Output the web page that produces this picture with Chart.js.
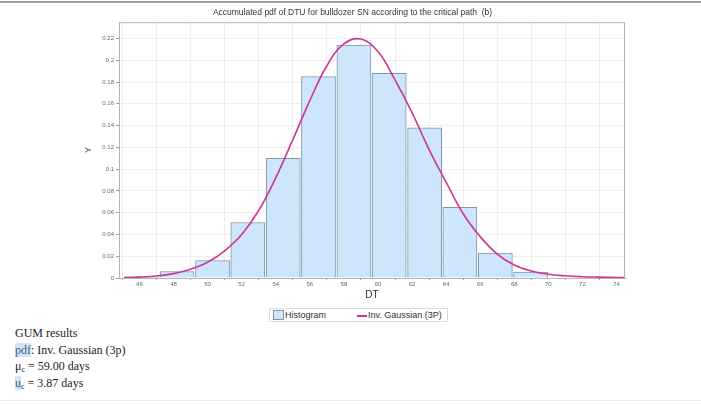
<!DOCTYPE html>
<html>
<head>
<meta charset="utf-8">
<script src="https://cdn.jsdelivr.net/npm/chart.js@4"></script>
<style>
  body { margin: 0; width: 701px; height: 404px; background: #fff; position: relative; overflow: hidden; font-family: "Liberation Sans", Arial, sans-serif; }
  .linhaTopo { position: absolute; left: 0; top: 1px; width: 701px; height: 2px; background: #a0a0a0; }
  .linhaBase { position: absolute; left: 0; top: 400px; width: 701px; height: 1px; background: #ececec; }
  #caixa { position: absolute; left: 0; top: 0; width: 701px; height: 302px; }
  .legenda { position: absolute; left: 269px; top: 308px; width: 177px; height: 12px; border: 1px solid #dcdcdc; font-size: 9px; color: #333; line-height: 12px; }
  .legenda .quad { position: absolute; left: 3px; top: 1px; width: 9px; height: 8px; background: #cde6fb; border: 1px solid #7f95a8; }
  .legenda .traco { position: absolute; left: 87px; top: 6px; width: 10px; height: 1.5px; background: #d13494; }
  .legenda .t1 { position: absolute; left: 15px; top: 0; }
  .legenda .t2 { position: absolute; left: 98px; top: 0; }
  .gum { position: absolute; left: 15px; top: 325px; font-family: "Liberation Serif", "DejaVu Serif", serif; font-size: 12px; color: #222; line-height: 16.6px; }
  .hl { background: #d5e4f3; color: #3a5f8f; }
  sub { font-size: 8px; vertical-align: -2px; line-height: 0; }
</style>
</head>
<body>
<div class="linhaTopo"></div>
<div id="caixa"><canvas id="grafico"></canvas></div>
<div class="legenda">
  <span class="quad"></span><span class="t1">Histogram</span>
  <span class="traco"></span><span class="t2">Inv. Gaussian (3P)</span>
</div>
<div class="gum">
  GUM results<br>
  <span class="hl">pdf</span>: Inv. Gaussian (3p)<br>
  μ<sub>c</sub> = 59.00 days<br>
  <span class="hl">u</span><sub>c</sub> = 3.87 days
</div>
<div class="linhaBase"></div>
<script>
  // histogram bins (centres) and heights
  const binCentros = [46.14, 48.21, 50.29, 52.36, 54.44, 56.51, 58.59, 60.66, 62.74, 64.81, 66.89, 68.96];
  const binAlturas = [0.001, 0.006, 0.016, 0.051, 0.110, 0.185, 0.214, 0.188, 0.138, 0.065, 0.023, 0.0055];

  // fitted curve
  const curvaX = [45.1, 46, 47, 48, 49, 50, 51, 52, 53, 54, 55, 56, 57, 58, 59, 60, 61, 62, 63, 64, 65, 66, 67, 68, 69, 70, 71, 72, 73, 74, 74.6];
  const curvaY = [0.0004, 0.0008, 0.0018, 0.004, 0.008, 0.0145, 0.025, 0.040, 0.062, 0.092, 0.127, 0.163, 0.195, 0.215, 0.2195, 0.208, 0.182, 0.152, 0.118, 0.088, 0.059, 0.038, 0.022, 0.012, 0.0065, 0.0035, 0.002, 0.0012, 0.0008, 0.0005, 0.0004];

  const xTicks = [46, 48, 50, 52, 54, 56, 58, 60, 62, 64, 66, 68, 70, 72, 74];
  const yTicks = [0, 0.02, 0.04, 0.06, 0.08, 0.1, 0.12, 0.14, 0.16, 0.18, 0.2, 0.22];

  const moldura = {
    id: 'moldura',
    afterDraw(chart) {
      const a = chart.chartArea;
      const ctx = chart.ctx;
      ctx.save();
      ctx.strokeStyle = '#b4b4b4';
      ctx.lineWidth = 1;
      ctx.strokeRect(a.left + 0.5, a.top + 0.5, a.right - a.left - 1, a.bottom - a.top);
      ctx.restore();
    }
  };

  const ctx = document.getElementById('grafico').getContext('2d');

  new Chart(ctx, {
    type: 'bar',
    data: {
      datasets: [{
        type: 'line',
        label: 'Inv. Gaussian (3P)',
        data: curvaX.map((x, i) => ({ x: x, y: curvaY[i] })),
        borderColor: '#d13494',
        borderWidth: 1.6,
        pointRadius: 0,
        tension: 0.4,
        fill: false
      }, {
        label: 'Histogram',
        data: binCentros.map((x, i) => ({ x: x, y: binAlturas[i] })),
        backgroundColor: '#cde6fb',
        borderColor: '#8096a8',
        borderWidth: 1,
        barPercentage: 1,
        categoryPercentage: 1
      }]
    },
    options: {
      responsive: true,
      maintainAspectRatio: false,
      animation: false,
      layout: { padding: { left: 80, right: 76, top: 0, bottom: 0 } },
      plugins: {
        legend: { display: false },
        tooltip: { enabled: false },
        title: {
          display: true,
          text: 'Accumulated pdf of DTU for bulldozer SN according to the critical path  (b)',
          color: '#333',
          font: { size: 8.5, family: '"Liberation Sans", Arial, sans-serif', weight: 'normal' },
          padding: { top: 8, bottom: 4 }
        }
      },
      scales: {
        x: {
          type: 'linear',
          offset: false,
          min: 44.8,
          max: 74.5,
          afterBuildTicks: s => { s.ticks = xTicks.map(v => ({ value: v })); },
          afterFit: s => { s.height = 24; },
          ticks: { color: '#666', font: { size: 6 }, padding: 1, maxRotation: 0, autoSkip: false },
          grid: { color: '#eeeeee', tickLength: 2, tickColor: '#999' },
          border: { color: '#999' },
          title: { display: true, text: 'DT', color: '#333', font: { size: 10 }, padding: { top: 0, bottom: 1 } }
        },
        y: {
          min: 0,
          max: 0.235,
          afterBuildTicks: s => { s.ticks = yTicks.map(v => ({ value: v })); },
          afterFit: s => { s.width = 39; },
          ticks: { color: '#666', font: { size: 6 }, padding: 2, callback: v => String(+v.toFixed(2)) },
          grid: { color: '#eeeeee', tickLength: 3, tickColor: '#999' },
          border: { color: '#999' },
          title: { display: true, text: 'Y', color: '#444', font: { size: 9 }, padding: { top: 3, bottom: 0 } }
        }
      }
    },
    plugins: [moldura]
  });
</script>
</body>
</html>
